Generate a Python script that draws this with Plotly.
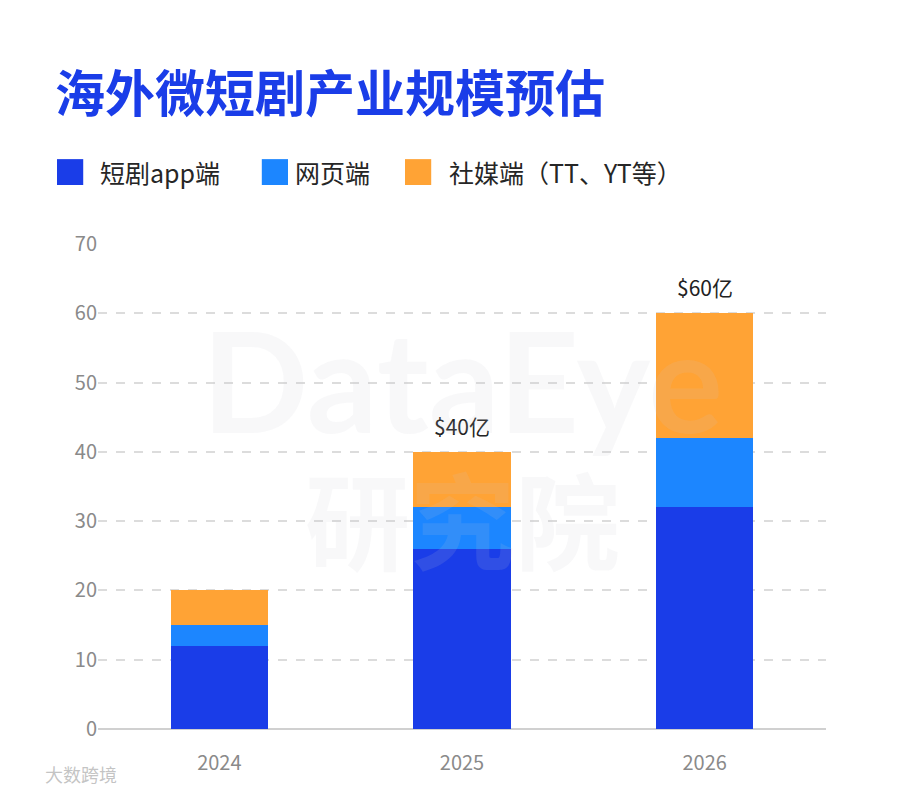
import plotly.graph_objects as go

years = ["2024", "2025", "2026"]
app_vals = [12, 26, 32]
web_vals = [3, 6, 10]
social_vals = [5, 8, 18]
series_names = ["短剧app端", "网页端", "社媒端（TT、YT等）"]
total_labels = ["", "$40亿", "$60亿"]
y_ticks = [0, 10, 20, 30, 40, 50, 60, 70]

colors = ["#1a3de8", "#1c86ff", "#ffa335"]
font = "Noto Sans CJK SC, Noto Sans, sans-serif"

fig = go.Figure()
for name, vals, col in zip(series_names, [app_vals, web_vals, social_vals], colors):
    fig.add_trace(go.Bar(x=years, y=vals, name=name, marker=dict(color=col, line=dict(width=0)),
                         showlegend=False))

# totals above bars (x given as category index so the axis stays categorical)
totals = [a + b + c for a, b, c in zip(app_vals, web_vals, social_vals)]
for i, (tot, lab) in enumerate(zip(totals, total_labels)):
    if lab:
        fig.add_annotation(x=i, y=tot, xref="x", yref="y", text=lab, showarrow=False,
                           yanchor="bottom", yshift=9,
                           font=dict(size=21, color="#222", family=font))

# faint watermark
fig.add_annotation(xref="paper", yref="paper", x=0.5, y=0.9, text="<b>DataEye</b>", showarrow=False,
                   font=dict(size=140, color="rgba(200,200,205,0.13)", family="Lato, sans-serif"))
fig.add_annotation(xref="paper", yref="paper", x=0.5, y=0.44, text="<b>研究院</b>", showarrow=False,
                   font=dict(size=105, color="rgba(200,200,205,0.13)", family=font))

# title
fig.add_annotation(xref="paper", yref="paper", x=-0.062, y=1.317, xanchor="left", yanchor="middle",
                   text="<b>海外微短剧产业规模预估</b>", showarrow=False,
                   font=dict(size=50, color="#1a3de8", family=font))

# custom legend
legend_x = [-0.0563, 0.225, 0.4217]
legend_tx = [0.0, 0.268, 0.48]
for name, col, lx, tx in zip(series_names, colors, legend_x, legend_tx):
    fig.add_shape(type="rect", xref="paper", yref="paper", x0=lx, x1=lx + 0.036,
                  y0=1.1216, y1=1.175, fillcolor=col, line=dict(width=0))
    fig.add_annotation(xref="paper", yref="paper", x=tx, y=1.148, xanchor="left",
                       yanchor="middle", text=name, showarrow=False,
                       font=dict(size=25, color="#262626", family=font))

# bottom-left source mark
fig.add_annotation(xref="paper", yref="paper", x=-0.075, y=-0.093, xanchor="left", yanchor="middle",
                   text="大数跨境", showarrow=False,
                   font=dict(size=18, color="rgba(170,170,170,0.7)", family=font))

fig.update_layout(
    barmode="stack",
    bargap=0.6,
    width=900, height=793,
    margin=dict(l=90, r=82, t=236, b=72),
    paper_bgcolor="white", plot_bgcolor="white",
    font=dict(family=font),
    xaxis=dict(type="category", categoryorder="array", categoryarray=years,
               range=[-0.5, len(years) - 0.5],
               showgrid=False, showline=False, ticks="outside", ticklen=16,
               tickcolor="rgba(0,0,0,0)",
               tickfont=dict(size=20, color="#8a8a8a")),
    yaxis=dict(range=[0, 70], tickvals=y_ticks, showgrid=True, gridcolor="#dcdcdc",
               griddash="dash", gridwidth=2, zeroline=True, zerolinecolor="#d0d0d0",
               zerolinewidth=2, ticks="", ticksuffix="  ",
               tickfont=dict(size=20, color="#8a8a8a")),
)

fig.write_html("out.html")
